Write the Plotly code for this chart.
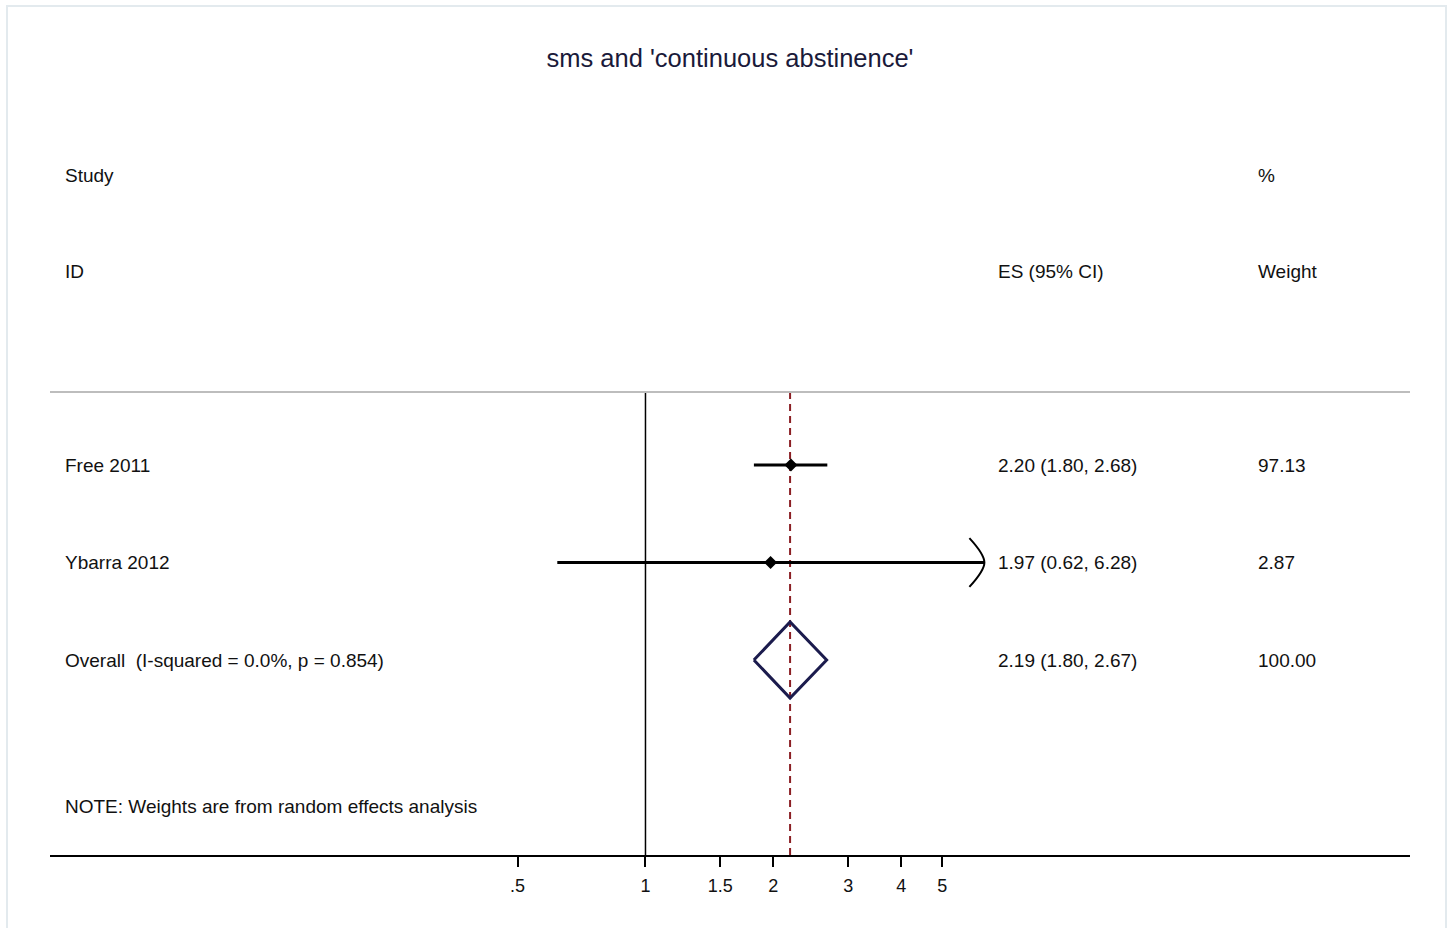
import math
import plotly.graph_objects as go

# Study-level results (effect size with 95% CI) and random-effects weights
studies = ["Free 2011", "Ybarra 2012"]
es = [2.20, 1.97]
ci_low = [1.80, 0.62]
ci_high = [2.68, 6.28]
weights = [97.13, 2.87]

# Pooled estimate
overall_label = "Overall  (I-squared = 0.0%, p = 0.854)"
overall_es = 2.19
overall_low = 1.80
overall_high = 2.67
overall_weight = 100.00

tick_vals = [0.5, 1, 1.5, 2, 3, 4, 5]
tick_text = [".5", "1", "1.5", "2", "3", "4", "5"]

title_text = "sms and 'continuous abstinence'"
note_text = "NOTE: Weights are from random effects analysis"

# CIs running past the last tick are drawn with an arrow head
axis_display_max = 5

FONT = "Arial, Liberation Sans, sans-serif"
TXT = "#111111"

# row positions (reversed y axis, one unit per study row)
rows = [1, 2]
overall_row = 3
note_row = 4.5
id_row = -0.98
study_row = -1.97
sep_row = 0.25
bottom_row = 5.0

fig = go.Figure()

# null line at ES = 1
fig.add_trace(go.Scatter(x=[1, 1], y=[sep_row, bottom_row], mode="lines",
                         line=dict(color="black", width=1.5), hoverinfo="skip"))
# dashed line at pooled estimate
fig.add_trace(go.Scatter(x=[overall_es, overall_es], y=[sep_row, bottom_row], mode="lines",
                         line=dict(color="#8b1f24", width=2, dash="7px,5px"), hoverinfo="skip"))

# confidence intervals and point estimates
for r, e, lo, hi in zip(rows, es, ci_low, ci_high):
    fig.add_trace(go.Scatter(x=[lo, hi], y=[r, r], mode="lines",
                             line=dict(color="black", width=3), hoverinfo="skip"))
    if hi > axis_display_max:
        back = hi * math.exp(-15 / 184.5)
        fig.add_trace(go.Scatter(x=[back, hi, back], y=[r - 0.25, r, r + 0.25], mode="lines",
                                 line=dict(color="black", width=2, shape="spline"),
                                 hoverinfo="skip"))
    fig.add_trace(go.Scatter(x=[e], y=[r], mode="markers",
                             marker=dict(symbol="diamond", size=10, color="black"),
                             hoverinfo="skip"))

# pooled diamond
fig.add_trace(go.Scatter(
    x=[overall_low, overall_es, overall_high, overall_es, overall_low],
    y=[overall_row, overall_row - 0.39, overall_row, overall_row + 0.39, overall_row],
    mode="lines", line=dict(color="#1b1b4d", width=3), hoverinfo="skip"))

# text columns
ann = []
def txt(x, y, s, size=19, color=TXT):
    ann.append(dict(x=x, y=y, xref="paper", yref="y", text=s, showarrow=False,
                    xanchor="left", yanchor="middle",
                    font=dict(family=FONT, size=size, color=color)))

col_id, col_es, col_w = 0.0095, 0.6955, 0.8865
txt(col_id, study_row, "Study")
txt(col_id, id_row, "ID")
txt(col_es, id_row, "ES (95% CI)")
txt(col_w, study_row, "%")
txt(col_w, id_row, "Weight")
for r, s, e, lo, hi, w in zip(rows, studies, es, ci_low, ci_high, weights):
    txt(col_id, r, s)
    txt(col_es, r, f"{e:.2f} ({lo:.2f}, {hi:.2f})")
    txt(col_w, r, f"{w:.2f}")
txt(col_id, overall_row, overall_label)
txt(col_es, overall_row, f"{overall_es:.2f} ({overall_low:.2f}, {overall_high:.2f})")
txt(col_w, overall_row, f"{overall_weight:.2f}")
txt(col_id, note_row, note_text)

shapes = [
    # separator under the header
    dict(type="line", xref="paper", yref="y", x0=0, x1=1, y0=sep_row, y1=sep_row,
         line=dict(color="#bdbdbd", width=2)),
    # outer frame
    dict(type="rect", xref="paper", yref="paper",
         x0=-43 / 1360, x1=1396 / 1360, y0=-0.2, y1=1 + 94 / 755,
         line=dict(color="#e3eaee", width=2)),
]

fig.update_layout(
    width=1448, height=928,
    margin=dict(l=50, r=38, t=100, b=73),
    paper_bgcolor="white", plot_bgcolor="white",
    showlegend=False,
    title=dict(text=title_text, x=0.5, xref="paper", xanchor="center",
               y=1 - 58 / 928, yref="container", yanchor="middle",
               font=dict(family=FONT, size=25.5, color="#1a1a3a")),
    xaxis=dict(type="log", range=[-1.402, 1.800], tickmode="array",
               tickvals=tick_vals, ticktext=tick_text, ticks="outside",
               ticklen=10, tickwidth=2, tickcolor="black",
               showline=True, linecolor="black", linewidth=2,
               showgrid=False, zeroline=False, ticklabelstandoff=3,
               tickfont=dict(family=FONT, size=18, color=TXT)),
    yaxis=dict(range=[bottom_row, 1 + (100 - 465) / 97.5], visible=False,
               showgrid=False, zeroline=False),
    annotations=ann, shapes=shapes,
)

fig.write_html("out.html")
